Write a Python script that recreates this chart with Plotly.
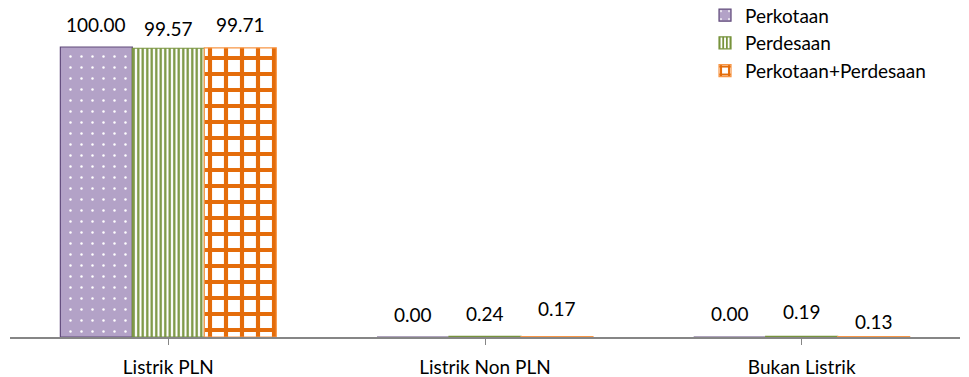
import plotly.graph_objects as go

categories = ["Listrik PLN", "Listrik Non PLN", "Bukan Listrik"]
series_names = ["Perkotaan", "Perdesaan", "Perkotaan+Perdesaan"]
perkotaan = [100.00, 0.00, 0.00]
perdesaan = [99.57, 0.24, 0.19]
gabungan = [99.71, 0.17, 0.13]
values = [perkotaan, perdesaan, gabungan]

# style
label_dy = [[23, 23, 24], [20, 23, 25], [23, 28, 15]]
fills = [
    dict(shape=".", bgcolor="#B3A2C7", fgcolor="#FFFFFF", size=11, solidity=0.04, fillmode="replace"),
    dict(shape="|", bgcolor="#FFFFFF", fgcolor="#77933C", size=4.5, solidity=0.5, fillmode="replace"),
    dict(shape="+", bgcolor="#FFFFFF", fgcolor="#E46C0A", size=16, solidity=0.45, fillmode="replace"),
]
line_colors = ["#604A7B", "#77933C", "#F79646"]
base_colors = ["#B3A2C7", "#77933C", "#E46C0A"]
FONT = "Lato"

bargap = 0.318
n = len(series_names)
bw = (1 - bargap) / n

fig = go.Figure()
for i, (name, vals) in enumerate(zip(series_names, values)):
    fig.add_trace(go.Bar(
        name=name, x=list(range(len(categories))), y=vals,
        marker=dict(color=base_colors[i], pattern=fills[i],
                    line=dict(color=line_colors[i], width=1.2)),
        legendgroup=name,
    ))
    for c, v in enumerate(vals):
        fig.add_annotation(
            x=c + (i - (n - 1) / 2) * bw, y=v, xref="x", yref="y",
            text=f"{v:.2f}", showarrow=False, yshift=label_dy[i][c],
            font=dict(size=19, color="#000000", family=FONT),
        )

fig.update_layout(
    width=969, height=377,
    margin=dict(l=10, r=9, t=18, b=40, autoexpand=False),
    paper_bgcolor="white", plot_bgcolor="white",
    barmode="group", bargap=bargap, bargroupgap=0,
    font=dict(family=FONT, size=18, color="#000000"),
    legend=dict(x=0.7316, y=1.068, xanchor="left", yanchor="top",
                font=dict(size=19, family=FONT), tracegroupgap=0,
                itemwidth=30, bgcolor="rgba(0,0,0,0)"),
    xaxis=dict(tickmode="array", tickvals=list(range(len(categories))), ticktext=categories,
               range=[-0.5, len(categories) - 0.5],
               showline=True, linecolor="#868686", linewidth=1.5,
               ticks="outside", tickson="boundaries", ticklen=6, tickcolor="#868686",
               ticklabelstandoff=6,
               tickfont=dict(size=19, family=FONT), showgrid=False, zeroline=False),
    yaxis=dict(range=[0, 110], visible=False, showgrid=False, zeroline=False),
)

fig.write_html("out.html")
